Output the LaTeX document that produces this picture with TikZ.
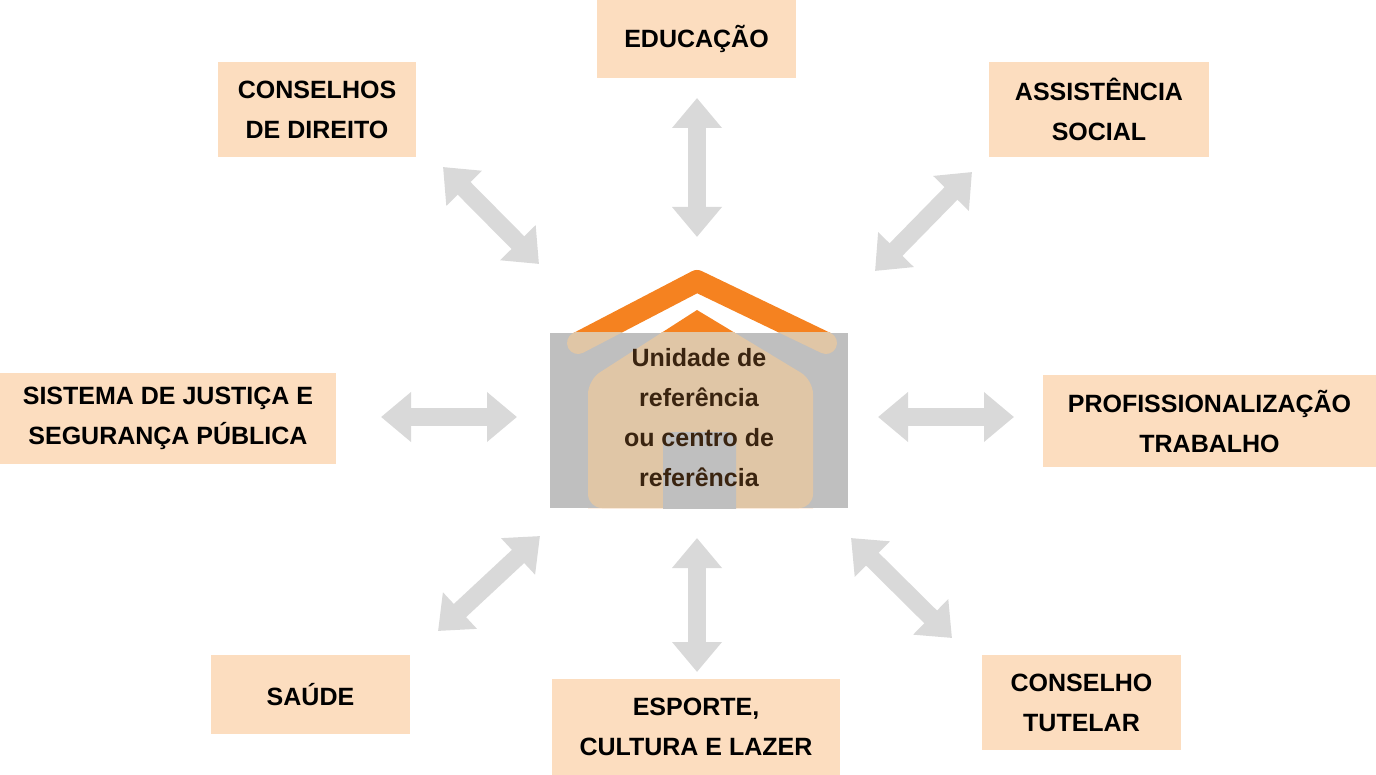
\documentclass[tikz,border=0pt]{standalone}
\usepackage{fontspec}
\setmainfont{Liberation Sans}
\usetikzlibrary{arrows.meta}
\definecolor{boxc}{HTML}{FCDDBF}
\definecolor{arrc}{HTML}{D9D9D9}
\definecolor{orng}{HTML}{F58220}
\definecolor{tan}{HTML}{E0C6A6}
\definecolor{grayb}{HTML}{BFBFBF}
\definecolor{txtc}{HTML}{3A2410}
\tikzset{
  lbl/.style={fill=boxc, align=center, inner sep=0pt, font=\fontsize{25}{40}\selectfont\bfseries},
  darr/.style={arrc, line width=18pt, line cap=butt, {Triangle[length=30pt,width=48pt]}-{Triangle[length=30pt,width=48pt]}}
}
\begin{document}
\begin{tikzpicture}[x=1pt,y=-1pt]
\useasboundingbox (0,0) rectangle (1376,775);
% boxes
\node[lbl, minimum width=199pt, minimum height=78pt] (edu) at (696.5,39) {EDUCAÇÃO};
\node[lbl, minimum width=198pt, minimum height=95pt] (cons) at (317,109.5) {CONSELHOS\\DE DIREITO};
\node[lbl, minimum width=220pt, minimum height=95pt] (assist) at (1099,109.5) {ASSISTÊNCIA\\SOCIAL};
\node[lbl, minimum width=336pt, minimum height=91pt] (just) at (168,418.5) {SISTEMA DE JUSTIÇA E\\SEGURANÇA PÚBLICA};
\node[lbl, minimum width=333pt, minimum height=92pt] (prof) at (1209.5,421) {PROFISSIONALIZAÇÃO\\TRABALHO};
\node[lbl, minimum width=199pt, minimum height=79pt] (saude) at (310.5,694.5) {SAÚDE};
\node[lbl, minimum width=288pt, minimum height=96pt] (esp) at (696,727) {ESPORTE,\\CULTURA E LAZER};
\node[lbl, minimum width=199pt, minimum height=95pt] (tut) at (1081.5,702.5) {CONSELHO\\TUTELAR};
% house
\draw[orng, line width=22pt, line cap=round, line join=round] (578,343) -- (697,281) -- (826,343);
\fill[orng] (588,508) -- (588,380) -- (697,310) -- (813,380) -- (813,508) -- cycle;
\fill[grayb] (550,333) rectangle (848,508);
\begin{scope}
\clip (550,333) rectangle (848,508);
\draw[tan, line width=22pt, line cap=round, line join=round] (578,343) -- (697,281) -- (826,343);
\fill[tan, rounded corners=14pt] (588,508) -- (588,380) -- (697,310) -- (813,380) -- (813,508) -- cycle;
\fill[grayb, rounded corners=10pt] (663,520) -- (663,432) -- (736,432) -- (736,520) -- cycle;
\end{scope}
\node[font=\fontsize{25}{40}\selectfont\bfseries, text=txtc, align=center] (unit) at (699,418) {Unidade de\\referência\\ou centro de\\referência};
% arrows
\coordinate (t1) at (697,98); \coordinate (t2) at (697,237);
\coordinate (tl1) at (443,167); \coordinate (tl2) at (539,264);
\coordinate (tr1) at (972,172); \coordinate (tr2) at (875,271);
\coordinate (l1) at (381,417); \coordinate (l2) at (517,417);
\coordinate (r1) at (878,417); \coordinate (r2) at (1014,417);
\coordinate (bl1) at (540,536); \coordinate (bl2) at (438,631);
\coordinate (b1) at (697,538); \coordinate (b2) at (697,672);
\coordinate (br1) at (851,538); \coordinate (br2) at (952,638);
\foreach \a/\b in {t1/t2,tl1/tl2,tr1/tr2,l1/l2,r1/r2,bl1/bl2,b1/b2,br1/br2}
  \draw[darr] (\a) -- (\b);
\end{tikzpicture}
\end{document}
